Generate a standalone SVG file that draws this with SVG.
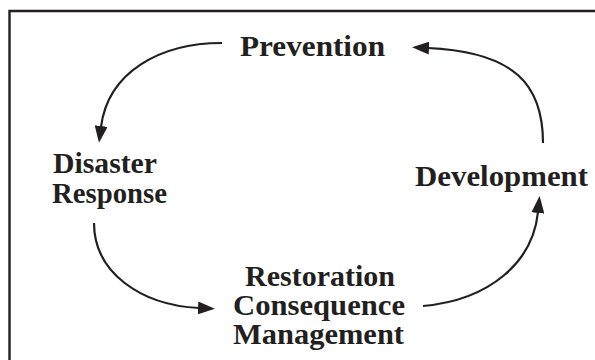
<svg xmlns="http://www.w3.org/2000/svg" width="595" height="360" viewBox="0 0 595 360">
<style>
  .lbl { font-family: "Liberation Serif", "Times New Roman", serif; font-weight: bold; font-size: 30px; fill: #231f20; }
  .conn { fill: none; stroke: #231f20; stroke-width: 2.2; }
</style>
<defs>
  <marker id="arrow" markerUnits="userSpaceOnUse" markerWidth="17" markerHeight="13" viewBox="0 0 17 13" refX="1" refY="6.5" orient="auto">
    <path d="M0,0 L17,6.5 L0,13 Z" fill="#231f20"/>
  </marker>
</defs>
<rect width="595" height="360" fill="#ffffff"/>
<path d="M9.5,360 V11 H595" fill="none" stroke="#231f20" stroke-width="2.4"/>
<g id="prevention">
  <text class="lbl" x="240" y="56" textLength="145" lengthAdjust="spacingAndGlyphs">Prevention</text>
</g>
<g id="disaster-response">
  <text class="lbl" x="53" y="173" textLength="104" lengthAdjust="spacingAndGlyphs">Disaster</text>
  <text class="lbl" x="52" y="203" textLength="115" lengthAdjust="spacingAndGlyphs">Response</text>
</g>
<g id="restoration">
  <text class="lbl" x="245" y="286" textLength="150" lengthAdjust="spacingAndGlyphs">Restoration</text>
  <text class="lbl" x="233" y="315" textLength="172" lengthAdjust="spacingAndGlyphs">Consequence</text>
  <text class="lbl" x="233" y="344" textLength="171" lengthAdjust="spacingAndGlyphs">Management</text>
</g>
<g id="development">
  <text class="lbl" x="415" y="186" textLength="173" lengthAdjust="spacingAndGlyphs">Development</text>
</g>
<g id="connectors">
  <path class="conn" d="M222,43 C160,43 108,72 101,127" marker-end="url(#arrow)"/>
  <path class="conn" d="M94,223 C94,272 140,305 199,308" marker-end="url(#arrow)"/>
  <path class="conn" d="M423,306 C490,300 533,262 538,212" marker-end="url(#arrow)"/>
  <path class="conn" d="M543,143 C543,85 515,52 428,48" marker-end="url(#arrow)"/>
</g>
</svg>
